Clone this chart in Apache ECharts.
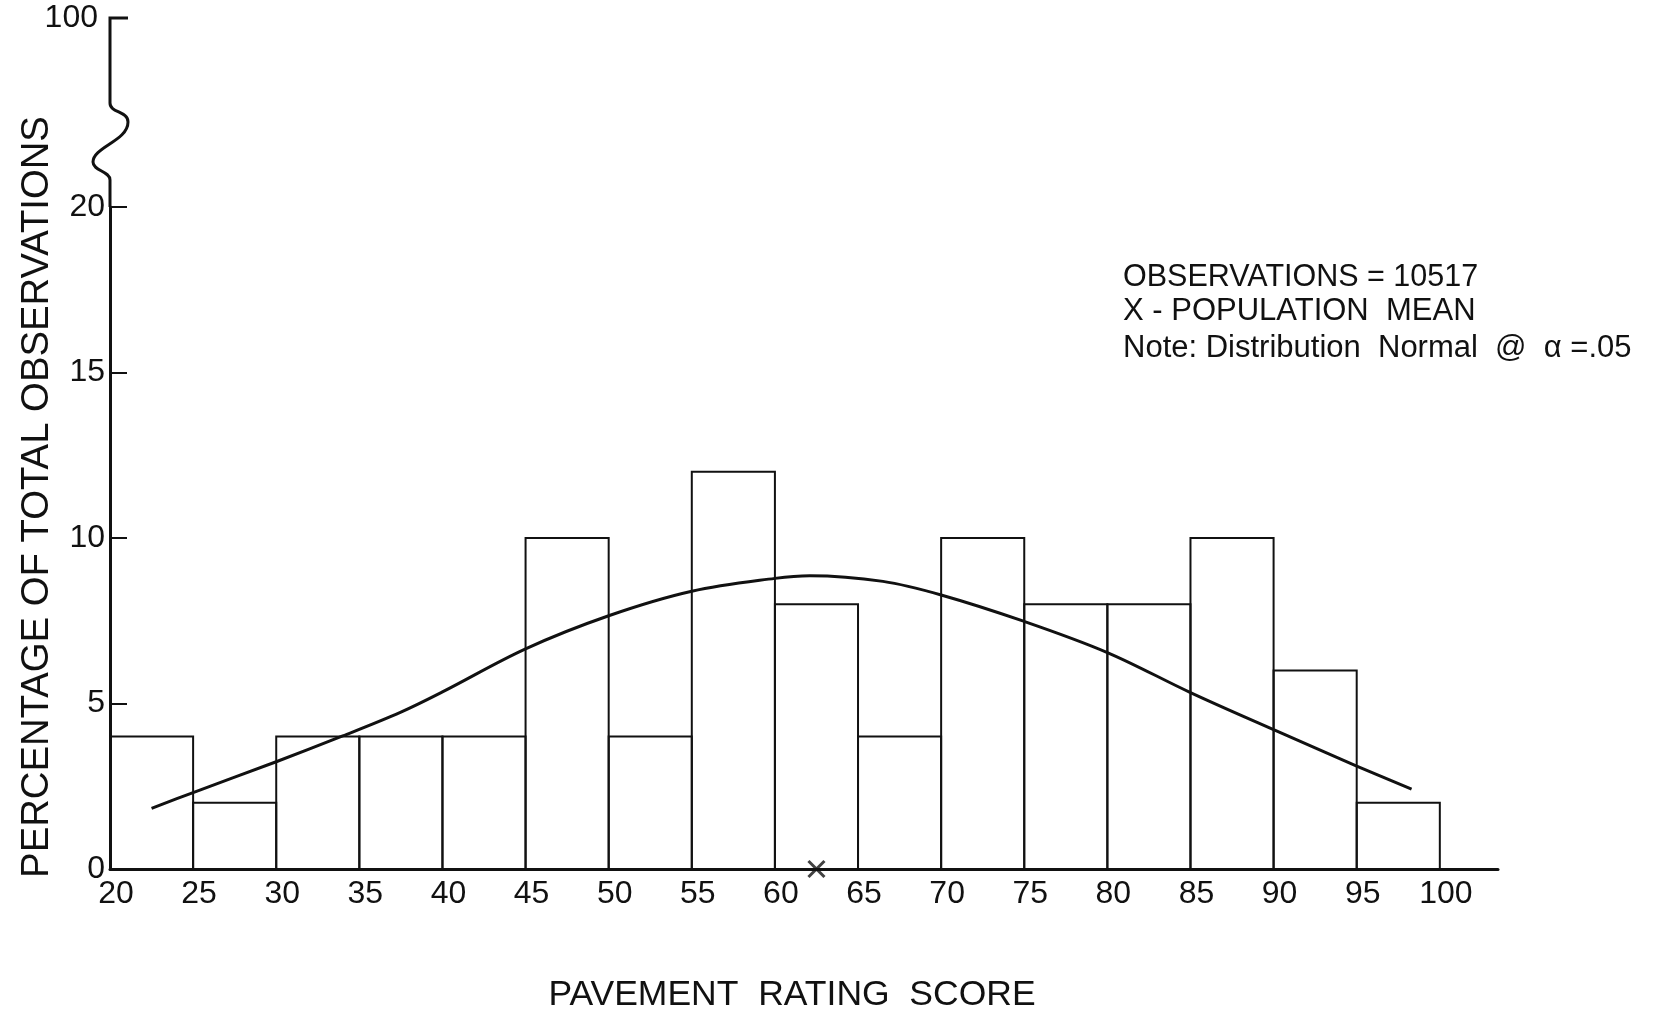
<!DOCTYPE html>
<html>
<head>
<meta charset="utf-8">
<script src="https://cdn.jsdelivr.net/npm/echarts@6/dist/echarts.min.js"></script>
<style>
  html, body { margin: 0; padding: 0; background: #ffffff; }
  #chart { width: 1658px; height: 1021px; }
</style>
</head>
<body>
<div id="chart"></div>
<script>
// ---- data ----
const binLower = [20, 25, 30, 35, 40, 45, 50, 55, 60, 65, 70, 75, 80, 85, 90, 95];
const binUpper = [25, 30, 35, 40, 45, 50, 55, 60, 65, 70, 75, 80, 85, 90, 95, 100];
const percentages = [4, 2, 4, 4, 4, 10, 4, 12, 8, 4, 10, 8, 8, 10, 6, 2];

const curveScore = [22.5, 25, 30, 34, 37.5, 40, 45, 50, 55, 60, 62.1, 66.5, 70, 75, 80, 85, 90, 95, 98.3];
const curvePct   = [1.83, 2.31, 3.24, 4.02, 4.74, 5.35, 6.65, 7.65, 8.39, 8.78, 8.86, 8.69, 8.28, 7.48, 6.54, 5.33, 4.21, 3.11, 2.41];

const meanScore = 62.5;

const xTickLabels = [20, 25, 30, 35, 40, 45, 50, 55, 60, 65, 70, 75, 80, 85, 90, 95, 100];
const yTickLabels = [0, 5, 10, 15, 20];
const yBreakTopLabel = '100';

const annotationLines = [
  'OBSERVATIONS = 10517',
  'X - POPULATION  MEAN',
  'Note: Distribution  Normal  @  \u03B1 =.05'
];
const xTitle = 'PAVEMENT  RATING  SCORE';
const yTitle = 'PERCENTAGE OF TOTAL OBSERVATIONS';

// ---- build ----
const histData = binLower.map((lo, i) => [lo, binUpper[i], percentages[i]]);
const curveData = curveScore.map((s, i) => [s, curvePct[i]]);
const INK = '#111';
const FONT = 'Liberation Sans';

const chart = echarts.init(document.getElementById('chart'), null, { renderer: 'canvas' });

chart.setOption({
  backgroundColor: '#ffffff',
  animation: false,
  grid: { left: 110, right: 160, top: 207, bottom: 152, containLabel: false },
  xAxis: {
    type: 'value',
    min: 20,
    max: 103.5,
    interval: 5,
    name: xTitle,
    nameLocation: 'middle',
    nameGap: 108,
    nameTextStyle: { fontFamily: FONT, fontSize: 35.5, color: INK, padding: [0, 24, 0, 0] },
    axisLine: { show: true, lineStyle: { color: INK, width: 3 } },
    axisTick: { show: false },
    splitLine: { show: false },
    axisLabel: {
      color: INK,
      fontFamily: FONT,
      fontSize: 32,
      margin: 9,
      padding: [0, 0, 0, 12],
      formatter: v => (xTickLabels.indexOf(v) >= 0 ? String(v) : '')
    }
  },
  yAxis: {
    type: 'value',
    min: 0,
    max: 20,
    interval: 5,
    axisLine: { show: true, lineStyle: { color: INK, width: 3 } },
    axisTick: { show: true, inside: true, length: 17, lineStyle: { color: INK, width: 2 } },
    splitLine: { show: false },
    axisLabel: {
      color: INK,
      fontFamily: FONT,
      fontSize: 32,
      margin: 5,
      formatter: v => (yTickLabels.indexOf(v) >= 0 ? String(v) : '')
    }
  },
  series: [
    {
      type: 'custom',
      name: 'histogram',
      data: histData,
      encode: { x: [0, 1], y: 2 },
      z: 2,
      renderItem: function (params, api) {
        const topLeft = api.coord([api.value(0), api.value(2)]);
        const botRight = api.coord([api.value(1), 0]);
        return {
          type: 'rect',
          shape: {
            x: topLeft[0],
            y: topLeft[1],
            width: botRight[0] - topLeft[0],
            height: botRight[1] - topLeft[1]
          },
          style: { fill: 'rgba(0,0,0,0)', stroke: INK, lineWidth: 2 }
        };
      }
    },
    {
      type: 'line',
      name: 'normal curve',
      data: curveData,
      smooth: 0.35,
      symbol: 'none',
      z: 3,
      lineStyle: { color: INK, width: 3 }
    },
    {
      type: 'scatter',
      name: 'population mean',
      data: [[meanScore, 0]],
      symbol: 'path://M0,0L10,10M10,0L0,10',
      symbolSize: 16,
      z: 4,
      clip: false,
      itemStyle: { color: 'rgba(0,0,0,0)', borderColor: INK, borderWidth: 3 }
    }
  ]
});

// axis break (squiggle) above 20 and the "100" top tick, anchored to the axis
const p20 = chart.convertToPixel({ gridIndex: 0 }, [20, 20]);
const ax = p20[0], y20 = p20[1];
const brkStyle = { stroke: INK, lineWidth: 3, fill: null };

chart.setOption({
  graphic: [
    { type: 'line', silent: true, shape: { x1: ax, y1: y20, x2: ax, y2: y20 - 27 }, style: brkStyle },
    { type: 'bezierCurve', silent: true,
      shape: { x1: ax, y1: y20 - 27, cpx1: ax, cpy1: y20 - 36, cpx2: ax - 17, cpy2: y20 - 36, x2: ax - 17, y2: y20 - 45 },
      style: brkStyle },
    { type: 'bezierCurve', silent: true,
      shape: { x1: ax - 17, y1: y20 - 45, cpx1: ax - 17, cpy1: y20 - 60, cpx2: ax + 18, cpy2: y20 - 66, x2: ax + 18, y2: y20 - 85 },
      style: brkStyle },
    { type: 'bezierCurve', silent: true,
      shape: { x1: ax + 18, y1: y20 - 85, cpx1: ax + 18, cpy1: y20 - 96, cpx2: ax, cpy2: y20 - 94, x2: ax, y2: y20 - 104 },
      style: brkStyle },
    { type: 'polyline', silent: true,
      shape: { points: [[ax, y20 - 104], [ax, y20 - 189], [ax + 18, y20 - 189]] },
      style: brkStyle },
    {
      type: 'text',
      x: ax - 12,
      y: y20 - 189,
      style: {
        text: yBreakTopLabel,
        fill: INK,
        font: '32px "' + FONT + '"',
        textAlign: 'right',
        textVerticalAlign: 'middle'
      }
    },
    {
      type: 'text',
      x: 37,
      y: 497,
      rotation: Math.PI / 2,
      style: {
        text: yTitle,
        fill: INK,
        font: '38.3px "' + FONT + '"',
        textAlign: 'center',
        textVerticalAlign: 'middle'
      }
    },
    {
      type: 'text',
      x: 1123,
      y: 278,
      style: { text: annotationLines[0], fill: INK, font: '30.5px "' + FONT + '"', textAlign: 'left', textVerticalAlign: 'middle' }
    },
    {
      type: 'text',
      x: 1123,
      y: 311,
      style: { text: annotationLines[1], fill: INK, font: '31px "' + FONT + '"', textAlign: 'left', textVerticalAlign: 'middle' }
    },
    {
      type: 'text',
      x: 1123,
      y: 348,
      style: { text: annotationLines[2], fill: INK, font: '31px "' + FONT + '"', textAlign: 'left', textVerticalAlign: 'middle' }
    }
  ]
});
</script>
</body>
</html>
